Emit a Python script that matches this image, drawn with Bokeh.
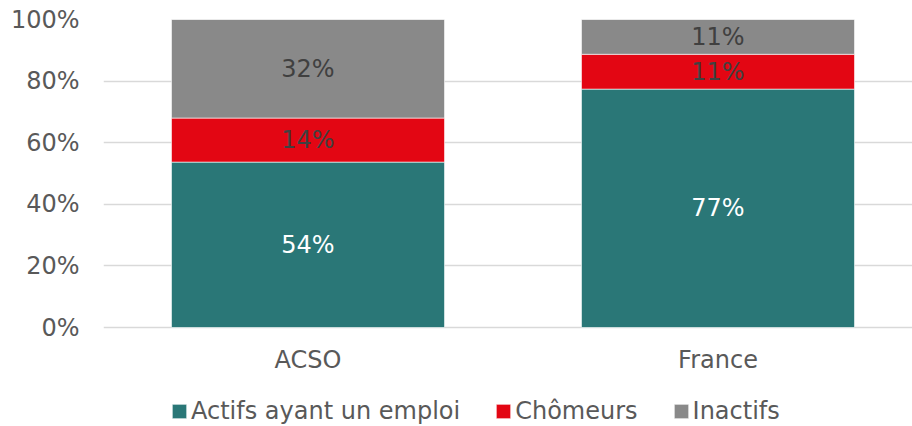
from bokeh.plotting import figure
from bokeh.models import ColumnDataSource, Range1d, Legend, LegendItem, FixedTicker, PrintfTickFormatter
from bokeh.core.properties import value
from bokeh.embed import file_html
from bokeh.resources import INLINE

categories = ["ACSO", "France"]
series = ["Actifs ayant un emploi", "Chômeurs", "Inactifs"]
actifs = [53.7, 77.4]
chomeurs = [14.3, 11.3]
inactifs = [32.0, 11.3]
colors = ["#2A7777", "#E30613", "#898989"]
label_colors = ["#FFFFFF", "#404040", "#404040"]
y_ticks = [0, 20, 40, 60, 80, 100]

FONT = "DejaVu Sans"
TXT = "#595959"

p = figure(width=912, height=426, output_backend="svg", toolbar_location=None,
           x_range=Range1d(-0.4988, 1.4744), y_range=Range1d(-32.14, 100),
           min_border_left=103, min_border_right=0, min_border_top=19, min_border_bottom=0)
p.outline_line_color = None
p.background_fill_color = "white"
p.border_fill_color = "white"

xs = list(range(len(categories)))
bottom = [0.0] * len(categories)
items = []
for name, vals, col, lc in zip(series, [actifs, chomeurs, inactifs], colors, label_colors):
    top = [b + v for b, v in zip(bottom, vals)]
    mid = [(b + t) / 2 for b, t in zip(bottom, top)]
    src = ColumnDataSource(dict(x=xs, bottom=bottom, top=top, mid=mid,
                                lab=[f"{round(v)}%" for v in vals]))
    r = p.vbar(x="x", bottom="bottom", top="top", width=0.666, source=src,
               fill_color=col, line_color="white", line_width=1, line_alpha=0.6)
    p.text(x="x", y="mid", text="lab", source=src, text_align="center",
           text_baseline="middle", text_font=value(FONT), text_font_size="24px",
           text_color=lc)
    items.append(LegendItem(label=name, renderers=[r]))
    bottom = top

# y axis
ya = p.yaxis[0]
ya.ticker = FixedTicker(ticks=y_ticks)
ya.formatter = PrintfTickFormatter(format="%d%%")
ya.axis_line_color = None
ya.major_tick_line_color = None
ya.minor_tick_line_color = None
ya.major_tick_out = 0
ya.major_label_standoff = 24
ya.major_label_text_font = FONT
ya.major_label_text_font_size = "24px"
ya.major_label_text_color = TXT

# x axis, drawn at y = 0 inside the frame
xa = p.xaxis[0]
xa.fixed_location = 0
xa.ticker = FixedTicker(ticks=xs)
xa.major_label_overrides = {i: c for i, c in enumerate(categories)}
xa.axis_line_color = None
xa.major_tick_line_color = None
xa.minor_tick_line_color = None
xa.major_tick_out = 0
xa.major_label_standoff = 18
xa.major_label_text_font = FONT
xa.major_label_text_font_size = "24px"
xa.major_label_text_color = TXT

p.xgrid.grid_line_color = None
p.ygrid.ticker = FixedTicker(ticks=y_ticks)
p.ygrid.grid_line_color = "#D9D9D9"
p.ygrid.grid_line_width = 1.5

legend = Legend(items=items, orientation="horizontal", location=(67, 1),
                glyph_width=18, glyph_height=18, label_standoff=3, spacing=34,
                padding=0, margin=0, border_line_color=None, background_fill_alpha=0,
                label_text_font=FONT, label_text_font_size="24px",
                label_text_color=TXT)
p.add_layout(legend)

open("out.html", "w").write(file_html(p, INLINE))
